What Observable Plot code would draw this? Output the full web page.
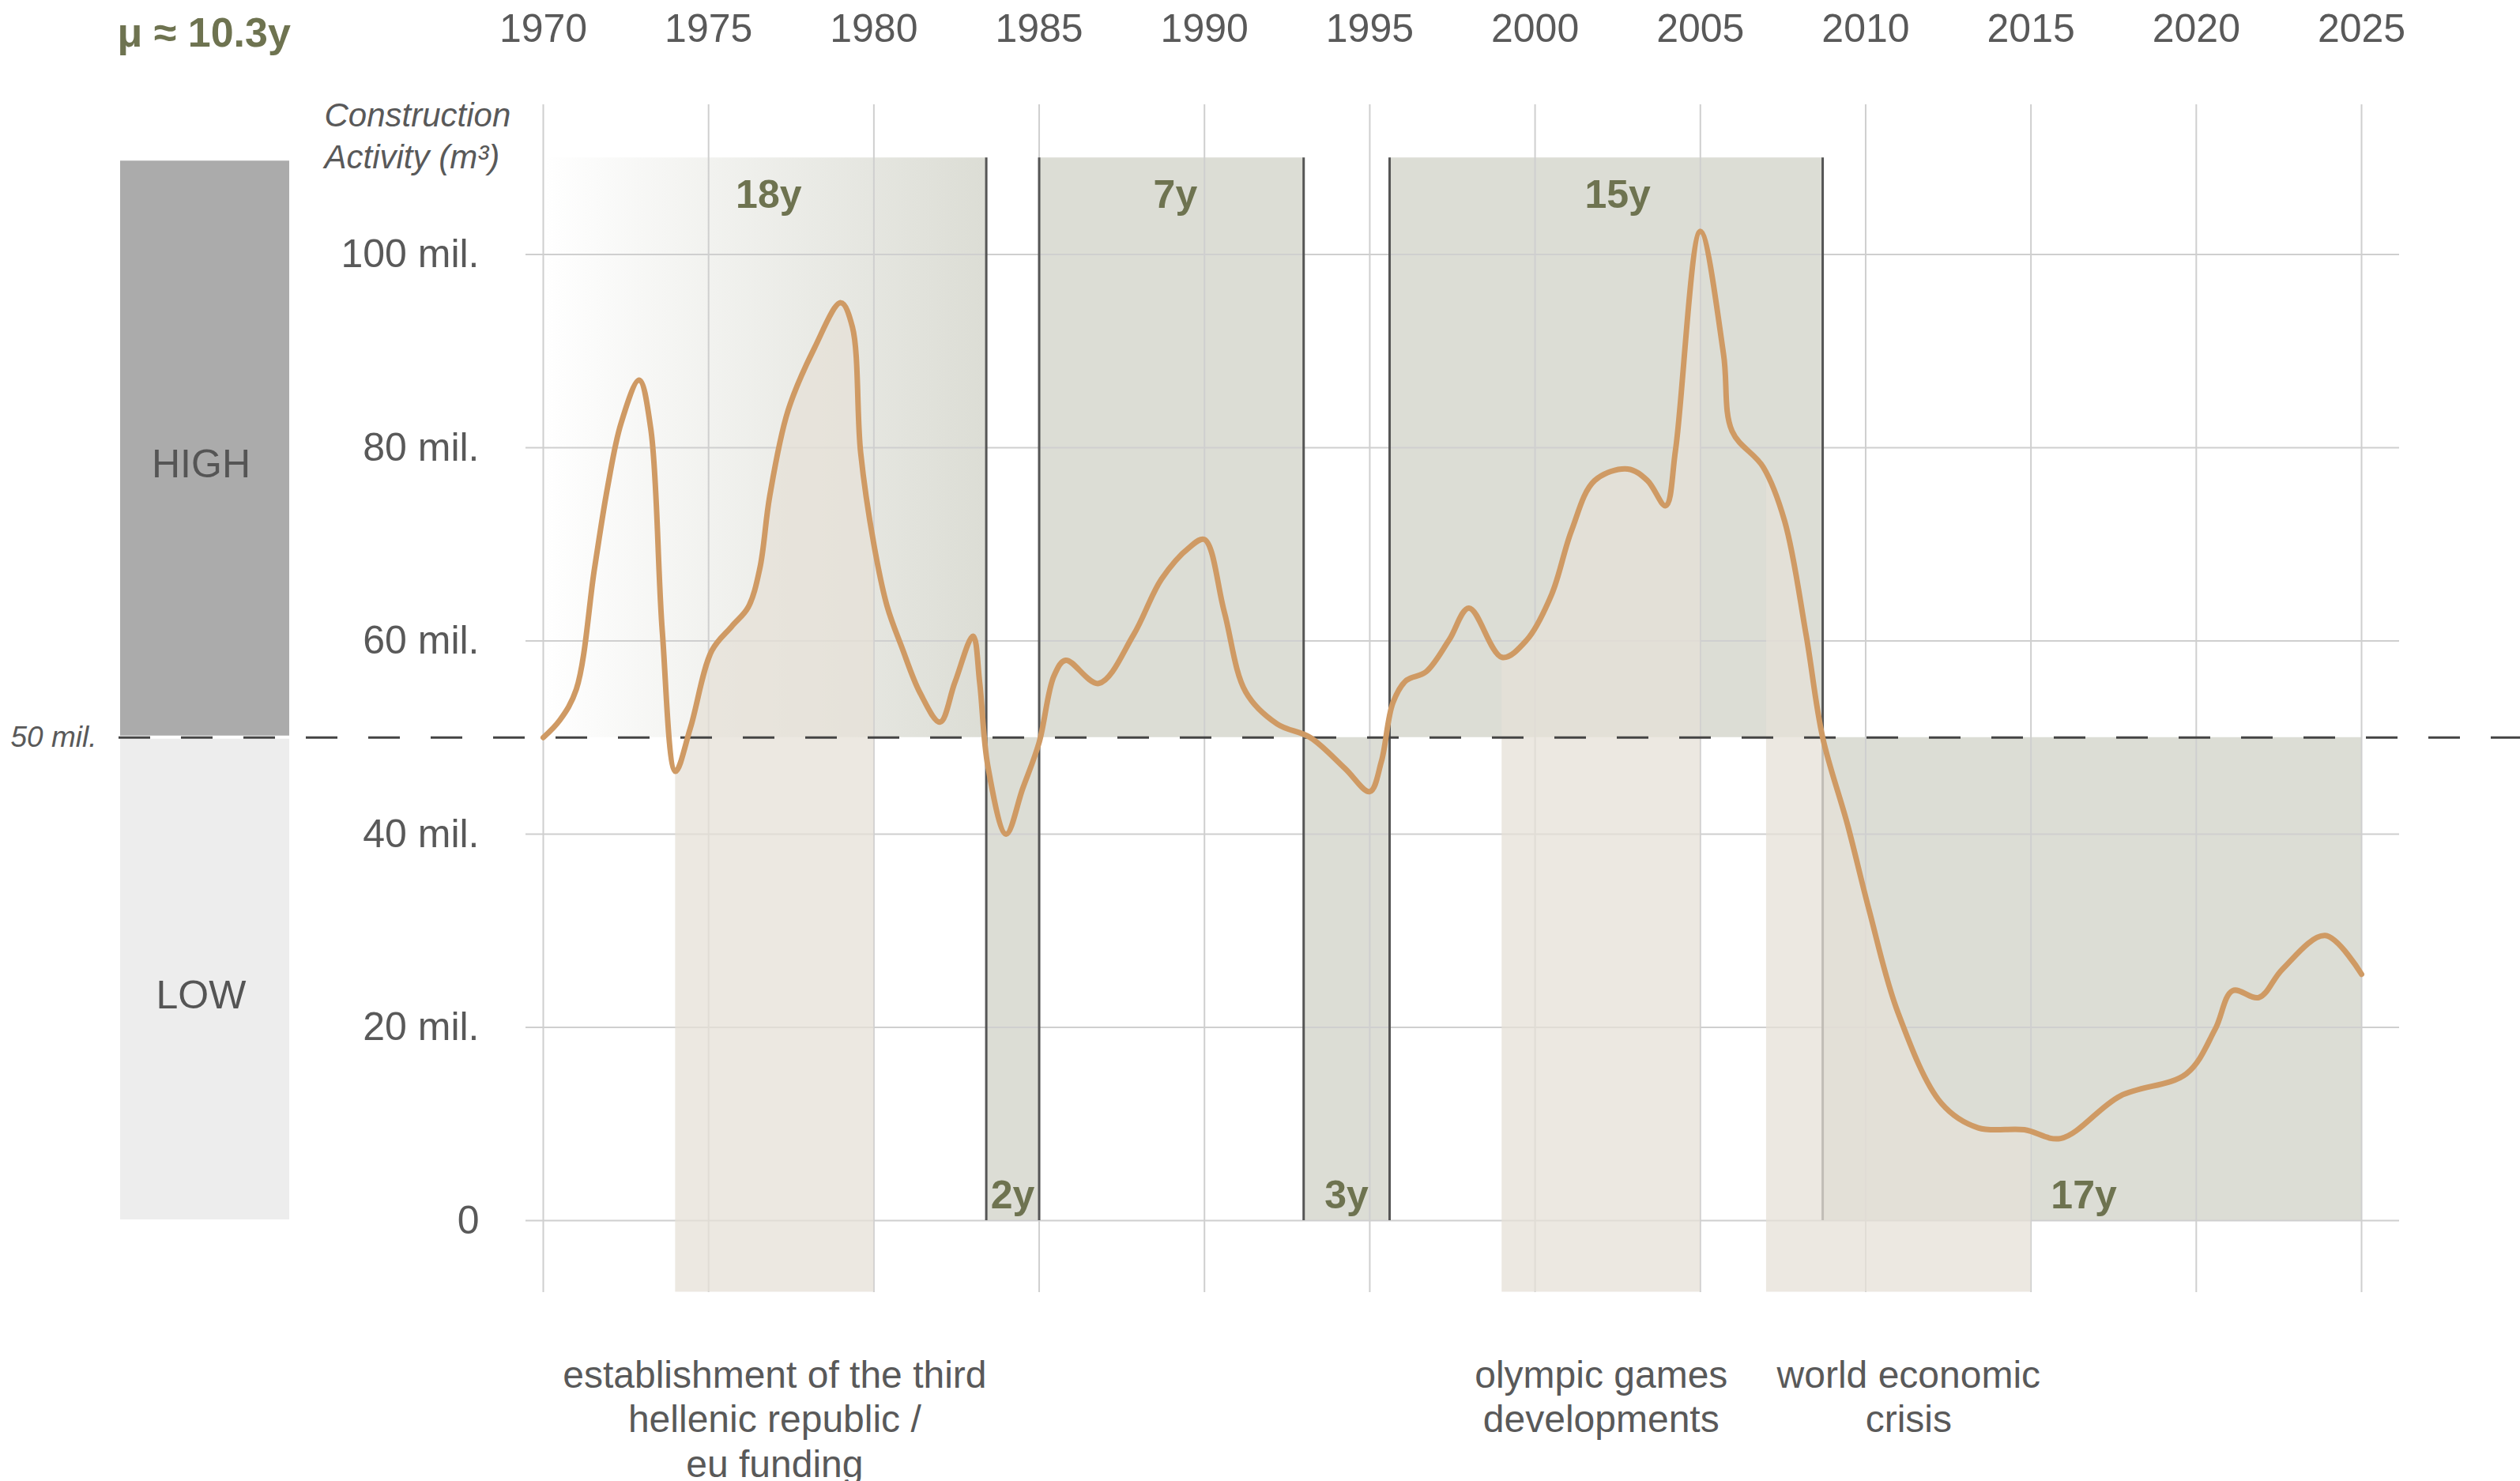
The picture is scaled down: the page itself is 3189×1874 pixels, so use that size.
<!DOCTYPE html>
<html>
<head>
<meta charset="utf-8">
<script src="https://cdn.jsdelivr.net/npm/d3@7"></script>
<script src="https://cdn.jsdelivr.net/npm/@observablehq/plot@0.6"></script>
<style>
  html, body { margin: 0; padding: 0; background: #fff; }
  #chart svg { display: block; }
</style>
</head>
<body>
<div id="chart"></div>
<script>
// ---------------- DATA ----------------
const years = [
  1970.0, 1970.5, 1971.0, 1971.55, 1971.95, 1972.35, 1972.9, 1973.25, 1973.6, 1974.0,
  1974.45, 1975.1, 1975.7, 1976.2, 1976.55, 1976.85, 1977.4, 1978.2, 1979.0, 1979.35,
  1979.6, 1980.0, 1980.4, 1980.85, 1981.4, 1982.0, 1982.45, 1983.0, 1983.2, 1983.45,
  1984.0, 1984.5, 1985.0, 1985.45, 1985.8, 1986.8, 1987.85, 1988.7, 1989.55, 1990.0,
  1990.6, 1991.25, 1992.2, 1993.2, 1994.25, 1995.0, 1995.35, 1995.7, 1996.1, 1996.7,
  1997.4, 1998.0, 1999.0, 1999.75, 2000.5, 2001.1, 2001.8, 2002.8, 2003.4, 2003.95,
  2004.25, 2005.0, 2005.7, 2005.96, 2006.9, 2007.55, 2008.2, 2008.7, 2009.45, 2010.1,
  2010.97, 2012.3, 2013.4, 2014.8, 2015.9, 2017.7, 2019.7, 2020.57, 2021.1, 2021.9,
  2022.6, 2023.9, 2025.0
];
const activity = [ // million m³
  50.0, 51.8, 55.0, 67.5, 76.0, 82.5, 87.0, 82.0, 61.0, 46.5,
  51.0, 59.0, 61.5, 63.5, 67.5, 75.0, 83.8, 90.3, 95.0, 92.5,
  79.5, 70.0, 63.6, 59.3, 54.6, 51.6, 55.7, 60.5, 55.7, 47.0,
  40.0, 44.7, 49.5, 56.4, 58.0, 55.6, 60.6, 66.4, 69.7, 70.5,
  63.0, 54.7, 51.4, 50.0, 46.8, 44.4, 47.5, 53.6, 55.9, 56.8,
  60.1, 63.4, 58.3, 60.1, 64.8, 71.4, 76.6, 77.8, 76.6, 74.0,
  79.8, 102.4, 89.7, 81.7, 78.0, 72.4, 60.6, 50.0, 41.0, 32.2,
  21.6, 12.1, 9.6, 9.4, 8.5, 12.9, 15.2, 19.8, 23.8, 23.1,
  26.0, 29.5, 25.5
];

const threshold = 50;        // 50 mil. boundary between HIGH and LOW
const ceiling = 110;         // top of the HIGH regime band
const xTicks = [1970, 1975, 1980, 1985, 1990, 1995, 2000, 2005, 2010, 2015, 2020, 2025];
const yTicks = [0, 20, 40, 60, 80, 100];

const periodLabels  = ["18y", "2y", "7y", "3y", "15y", "17y"];
const periodStarts  = [1970, 1983.4, 1985, 1993, 1995.6, 2008.7];
const periodEnds    = [1983.4, 1985, 1993, 1995.6, 2008.7, 2025];
const periodRegimes = ["HIGH", "LOW", "HIGH", "LOW", "HIGH", "LOW"];

const eventLabels = [
  "establishment of the third\nhellenic republic /\neu funding",
  "olympic games\ndevelopments",
  "world economic\ncrisis"
];
const eventStarts = [1974, 1999, 2007];
const eventEnds   = [1980, 2005, 2015];

const regimeNames = ["HIGH", "LOW"];
const meanLabel = "μ ≈ 10.3y";
const axisTitle = "Construction\nActivity (m³)";
const thresholdLabel = "50 mil.";

// ---------------- TABLES ----------------
const series = years.map((year, i) => ({year, value: activity[i]}));
const periods = periodLabels.map((label, i) => ({
  label, start: periodStarts[i], end: periodEnds[i], regime: periodRegimes[i],
  lo: periodRegimes[i] === "HIGH" ? threshold : 0,
  hi: periodRegimes[i] === "HIGH" ? ceiling : threshold
}));
const edges = [];
periods.forEach((p, i) => {
  if (i > 0) edges.push({x: p.start, lo: p.lo, hi: p.hi});
  if (i < periods.length - 1) edges.push({x: p.end, lo: p.lo, hi: p.hi});
});
const events = eventLabels.map((label, i) => ({label, start: eventStarts[i], end: eventEnds[i]}));
const regimes = regimeNames.map(name => ({
  name,
  lo: name === "HIGH" ? threshold : 0,
  hi: name === "HIGH" ? ceiling : threshold
}));

// ---------------- LAYOUT / STYLE ----------------
const W = 3189, H = 1874;
const mTop = 132, mBottom = 239, mLeft = 665, mRight = 153;
const bandFloor = -7.4;
const olive = "#6e7350";
const textGray = "#595959";
const periodFill = "#dcddd5";
// small label nudges (in years along x)
const labelNudge = {"18y": 0.12, "7y": 0.12, "15y": 0.35, "17y": -0.25};
const eventNudge = [0, 0, 0.3];
const legendBox = {x: 152, width: 214};
const labelX = d => (d.start + d.end) / 2 + (labelNudge[d.label] || 0);

const defsMark = () => {
  const defs = d3.create("svg:defs");
  const g = defs.append("linearGradient").attr("id", "fade-in").attr("x1", 0).attr("x2", 1).attr("y1", 0).attr("y2", 0);
  g.append("stop").attr("offset", "0%").attr("stop-color", "#ffffff");
  g.append("stop").attr("offset", "100%").attr("stop-color", periodFill);
  return defs.node();
};

const regimeBoxes = (index, scales) => {
  const y = scales.y;
  const g = d3.create("svg:g");
  regimes.forEach(r => {
    g.append("rect")
      .attr("x", legendBox.x).attr("width", legendBox.width)
      .attr("y", y(r.hi) + (r.name === "HIGH" ? 4 : 2))
      .attr("height", y(r.lo) - y(r.hi) - (r.name === "HIGH" ? 6 : 3))
      .attr("fill", r.name === "HIGH" ? "#ababab" : "#ededed");
  });
  return g.node();
};

const eventBands = (index, scales) => {
  const {x, y} = scales;
  const g = d3.create("svg:g");
  const area = d3.area()
    .x(d => x(d.year)).y0(y(bandFloor)).y1(d => y(d.value))
    .curve(d3.curveCatmullRom);
  const path = area(series);
  events.forEach((e, i) => {
    const id = `event-clip-${i}`;
    g.append("clipPath").attr("id", id).append("rect")
      .attr("x", x(e.start)).attr("width", x(e.end) - x(e.start))
      .attr("y", 0).attr("height", H);
    g.append("path").attr("d", path).attr("clip-path", `url(#${id})`)
      .attr("fill", "#e6e0d7").attr("fill-opacity", 0.75);
  });
  return g.node();
};

const plot = Plot.plot({
  width: W,
  height: H,
  marginTop: mTop, marginBottom: mBottom, marginLeft: mLeft, marginRight: mRight,
  style: {fontFamily: "'Liberation Sans', Arial, sans-serif", fontSize: "50px", background: "#fff", color: textGray, overflow: "visible"},
  x: {domain: [1970, 2025], range: [687, 2988], axis: null},
  y: {domain: [0, 100], range: [1544, 321.5], axis: null},
  marks: [
    defsMark,
    // regime periods
    Plot.rect(periods, {
      x1: "start", x2: "end", y1: "lo", y2: "hi",
      fill: (d, i) => i === 0 ? "url(#fade-in)" : periodFill
    }),
    // grid
    Plot.ruleX(xTicks, {stroke: "#cfcfcf", strokeWidth: 2}),
    Plot.ruleY(yTicks, {stroke: "#cfcfcf", strokeWidth: 2}),
    // period borders
    Plot.ruleX(edges, {x: "x", y1: "lo", y2: "hi", stroke: "#555", strokeWidth: 3}),
    // event bands under the curve
    eventBands,
    // HIGH / LOW legend boxes
    regimeBoxes,
    // threshold
    Plot.ruleY([threshold], {stroke: "#444", strokeWidth: 3, strokeDasharray: "40,39", insetLeft: -(mLeft - 150), insetRight: -mRight}),
    // curve
    Plot.line(series, {x: "year", y: "value", curve: "catmull-rom", stroke: "#cf9a64", strokeWidth: 7, strokeLinecap: "round", strokeLinejoin: "round"}),
    // x tick labels (top)
    Plot.text(xTicks, {x: d => d, text: d => String(d), frameAnchor: "top", dy: -80, lineAnchor: "bottom", fontSize: 50, fill: textGray}),
    // y tick labels
    Plot.text(yTicks, {y: d => d, text: d => d === 0 ? "0" : `${d} mil.`, frameAnchor: "left", dx: -(mLeft - 606), textAnchor: "end", lineAnchor: "middle", fontSize: 50, fill: textGray}),
    // axis title
    Plot.text([axisTitle], {text: d => d, frameAnchor: "top-left", dx: 410 - mLeft, dy: -9, textAnchor: "start", lineAnchor: "top", lineHeight: 1.24, fontSize: 42, fontStyle: "italic", fill: textGray}),
    // mean label
    Plot.text([meanLabel], {text: d => d, frameAnchor: "top-left", dx: 148 - mLeft, dy: 58 - mTop, textAnchor: "start", lineAnchor: "bottom", fontSize: 52, fontWeight: "bold", fill: olive}),
    // threshold label
    Plot.text([threshold], {y: d => d, text: () => thresholdLabel, frameAnchor: "left", dx: 13 - mLeft, textAnchor: "start", lineAnchor: "middle", fontSize: 37, fontStyle: "italic", fill: textGray}),
    // HIGH / LOW
    Plot.text(regimes, {y: d => (d.lo + d.hi) / 2, text: "name", frameAnchor: "left", dx: 254 - mLeft, dy: 21, textAnchor: "middle", lineAnchor: "middle", fontSize: 50, fill: "#555"}),
    // period duration labels
    Plot.text(periods.filter(p => p.regime === "HIGH"), {
      x: labelX, y: "hi", text: "label",
      dy: 28, lineAnchor: "top", fontSize: 50, fontWeight: "bold", fill: olive
    }),
    Plot.text(periods.filter(p => p.regime === "LOW"), {
      x: labelX, y: "lo", text: "label",
      dy: -16, lineAnchor: "bottom", fontSize: 50, fontWeight: "bold", fill: olive
    }),
    // event labels
    Plot.text(events, {
      x: (d, i) => (d.start + d.end) / 2 + eventNudge[i], text: "label", frameAnchor: "bottom",
      dy: 80, lineAnchor: "top", lineHeight: 1.18, fontSize: 48, fill: textGray
    })
  ]
});

document.getElementById("chart").appendChild(plot);
</script>
</body>
</html>
